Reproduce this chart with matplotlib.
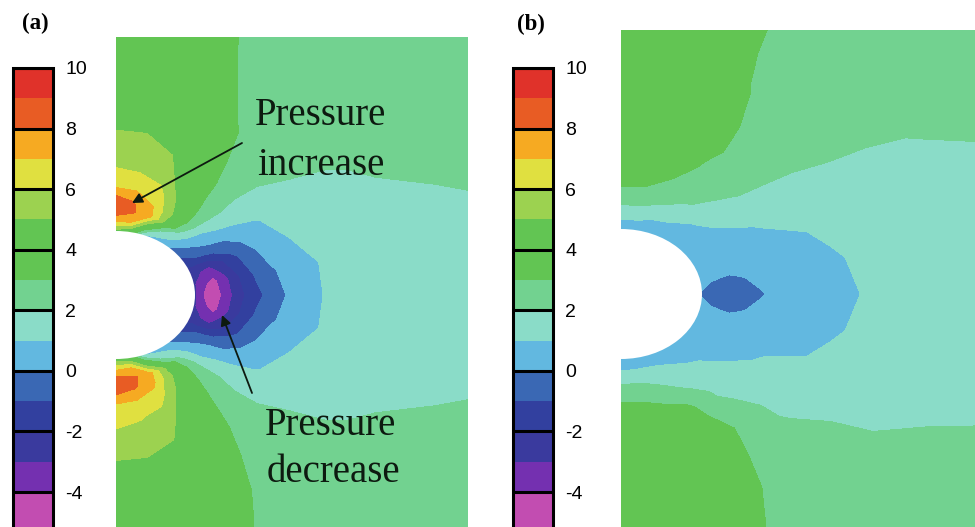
import numpy as np
import matplotlib.pyplot as plt
from matplotlib.colors import ListedColormap, BoundaryNorm
from matplotlib.patches import Ellipse

plt.rcParams["axes.unicode_minus"] = False

# === Field samples ===
# rays around the hole (degrees, 90 = straight up) and distance (px) from the hole edge
ray_angle = [90, 80, 70, 60, 50, 40, 30, 20, 10, 0,
             -10, -20, -30, -40, -50, -60, -70, -80, -90]
edge_dist = [0, 10, 20, 30, 45, 60, 80, 105, 135, 170, 210, 260, 320, 400]

# panel (a): one row per ray, one value per edge distance
press_a = [
    [4.5, 7.2, 8.6, 8.7, 6.8, 6.1, 5.5, 4.9, 4.5, 4.3, 4.2, 4.2, 4.2, 4.2],
    [4.0, 7.0, 8.1, 8.0, 6.7, 6.0, 5.4, 4.9, 4.5, 4.3, 4.2, 4.1, 4.0, 4.0],
    [1.0, 4.5, 7.3, 7.0, 6.4, 5.6, 5.1, 4.6, 4.3, 4.1, 3.3, 3.1, 3.0, 3.0],
    [0.6, 2.0, 4.8, 5.2, 4.8, 4.4, 4.1, 3.8, 3.4, 2.9, 2.7, 2.6, 2.6, 2.6],
    [0.2, 1.2, 2.2, 3.0, 3.1, 2.95, 2.9, 2.7, 2.6, 2.55, 2.5, 2.5, 2.5, 2.5],
    [-0.6, 0.0, 0.5, 0.9, 1.5, 1.8, 1.8, 2.0, 2.3, 2.45, 2.5, 2.5, 2.55, 2.55],
    [-1.5, -1.0, -0.6, -0.3, 0.0, 0.4, 0.9, 1.3, 1.6, 1.85, 2.2, 2.4, 2.5, 2.5],
    [-2.5, -2.9, -3.0, -2.4, -1.3, -0.5, 0.5, 1.0, 1.3, 1.55, 1.75, 2.0, 2.3, 2.5],
    [-2.9, -3.8, -4.3, -3.5, -2.1, -1.0, -0.1, 0.6, 1.15, 1.35, 1.5, 1.6, 1.7, 1.8],
    [-2.9, -4.2, -4.6, -3.7, -2.3, -1.4, -0.4, 0.5, 1.15, 1.35, 1.45, 1.5, 1.55, 1.6],
    [-2.9, -3.8, -4.3, -3.5, -2.1, -1.0, -0.1, 0.6, 1.15, 1.35, 1.5, 1.6, 1.7, 1.8],
    [-2.5, -2.9, -3.0, -2.4, -1.3, -0.5, 0.5, 1.0, 1.3, 1.55, 1.75, 2.0, 2.3, 2.5],
    [-1.5, -1.0, -0.6, -0.3, 0.0, 0.4, 0.9, 1.3, 1.6, 1.85, 2.2, 2.4, 2.5, 2.5],
    [-0.6, 0.0, 0.5, 0.9, 1.5, 1.8, 1.8, 2.0, 2.3, 2.45, 2.5, 2.5, 2.55, 2.55],
    [0.2, 1.2, 2.2, 3.0, 3.1, 3.0, 2.9, 2.8, 2.65, 2.55, 2.5, 2.5, 2.5, 2.5],
    [0.6, 2.0, 4.8, 5.2, 4.8, 4.4, 4.1, 3.9, 3.5, 3.2, 2.9, 2.7, 2.6, 2.6],
    [1.0, 4.5, 7.4, 7.2, 6.5, 5.7, 5.2, 4.7, 4.4, 4.2, 3.6, 3.2, 3.1, 3.1],
    [4.0, 7.0, 8.2, 8.1, 6.8, 6.1, 5.5, 4.9, 4.5, 4.3, 4.2, 4.1, 4.0, 4.0],
    [4.5, 6.8, 8.3, 8.6, 7.0, 6.4, 5.6, 4.9, 4.5, 4.3, 4.2, 4.2, 4.2, 4.2],
]

# panel (b)
press_b = [
    [0.6, 1.0, 1.7, 2.4, 3.1, 3.5, 3.8, 4.0, 4.1, 4.1, 4.1, 4.1, 4.1, 4.1],
    [0.6, 1.0, 1.7, 2.3, 3.05, 3.5, 3.8, 4.0, 4.1, 4.1, 4.1, 4.1, 4.1, 4.1],
    [0.5, 0.8, 1.3, 2.0, 2.7, 3.1, 3.6, 3.9, 4.0, 4.0, 3.9, 3.8, 3.8, 3.8],
    [0.4, 0.7, 1.1, 1.5, 2.3, 2.6, 2.9, 3.2, 3.2, 3.05, 2.8, 2.7, 2.7, 2.7],
    [0.35, 0.6, 0.75, 1.1, 1.7, 2.1, 2.5, 2.6, 2.6, 2.6, 2.6, 2.6, 2.6, 2.6],
    [0.3, 0.4, 0.55, 0.8, 1.15, 1.4, 1.8, 2.0, 2.15, 2.4, 2.5, 2.6, 2.6, 2.6],
    [0.2, 0.3, 0.35, 0.4, 0.55, 0.9, 1.1, 1.4, 1.55, 1.7, 1.85, 2.05, 2.3, 2.4],
    [0.1, 0.2, 0.25, 0.3, 0.45, 0.6, 0.75, 0.9, 1.15, 1.4, 1.55, 1.7, 1.85, 1.95],
    [0.05, 0.02, -0.03, -0.06, 0.05, 0.2, 0.4, 0.55, 0.9, 1.2, 1.4, 1.55, 1.7, 1.8],
    [-0.02, -0.25, -0.35, -0.4, -0.3, -0.05, 0.3, 0.55, 0.8, 1.1, 1.35, 1.5, 1.65, 1.75],
    [0.05, 0.02, -0.03, -0.06, 0.05, 0.2, 0.4, 0.6, 0.9, 1.2, 1.4, 1.55, 1.7, 1.8],
    [0.1, 0.2, 0.25, 0.3, 0.45, 0.6, 0.75, 0.9, 1.15, 1.4, 1.55, 1.75, 2.0, 2.1],
    [0.2, 0.3, 0.35, 0.45, 0.6, 0.85, 1.2, 1.45, 1.7, 1.85, 2.0, 2.35, 2.45, 2.5],
    [0.3, 0.4, 0.55, 0.8, 1.1, 1.45, 1.65, 1.9, 2.05, 2.35, 2.5, 2.55, 2.55, 2.55],
    [0.35, 0.6, 0.8, 1.2, 1.6, 1.85, 2.2, 2.85, 2.7, 2.6, 2.55, 2.55, 2.55, 2.55],
    [0.45, 0.75, 1.15, 1.5, 2.05, 2.9, 3.3, 3.5, 3.5, 3.3, 3.0, 2.8, 2.7, 2.7],
    [0.5, 0.9, 1.4, 1.9, 2.7, 3.3, 3.7, 3.9, 4.0, 4.0, 3.9, 3.8, 3.8, 3.8],
    [0.6, 0.9, 1.6, 2.3, 3.0, 3.5, 3.8, 4.0, 4.1, 4.1, 4.1, 4.1, 4.1, 4.1],
    [0.6, 0.85, 1.6, 2.3, 3.1, 3.5, 3.8, 4.0, 4.1, 4.1, 4.1, 4.1, 4.1, 4.1],
]

levels = list(range(-6, 11))
cb_ticks = [-4, -2, 0, 2, 4, 6, 8, 10]
cb_lines = [-6, -4, -2, 0, 2, 4, 6, 8, 10]
band_colors = ["#c24db1", "#c24db1", "#7430b0", "#3a3a9e", "#32409f", "#3a68b4",
               "#62b8e0", "#8adcc8", "#72d290", "#62c553", "#62c553", "#9cd250",
               "#e0e040", "#f6aa22", "#e85c24", "#e0322a"]

cmap = ListedColormap(band_colors)
norm = BoundaryNorm(levels, cmap.N)

# === Figure layout (pixel boxes on a 975x527 canvas) ===
W, H = 975, 527
fig = plt.figure(figsize=(W / 100, H / 100), dpi=100)


def box(x0, y0, x1, y1):
    return [x0 / W, 1 - y1 / H, (x1 - x0) / W, (y1 - y0) / H]


def draw_panel(rect, vals, hole_a, hole_b, xlim, ylim):
    ax = fig.add_axes(rect)
    th = np.deg2rad(np.array(ray_angle))[:, None]
    d = np.array(edge_dist)[None, :]
    X = (hole_a + d) * np.cos(th)
    Y = (hole_b + d) * np.sin(th)
    cs = ax.contourf(X, Y, np.array(vals), levels=levels, cmap=cmap, norm=norm,
                     antialiased=False)
    ax.add_patch(Ellipse((0, 0), 2 * hole_a, 2 * hole_b, facecolor="white",
                         edgecolor="none", zorder=3))
    ax.set_xlim(*xlim)
    ax.set_ylim(*ylim)
    ax.set_axis_off()
    return ax, cs


def draw_cbar(rect, cs):
    cax = fig.add_axes(rect)
    cb = fig.colorbar(cs, cax=cax, ticks=cb_ticks)
    cb.outline.set_linewidth(2.2)
    for t in cb_lines:
        cax.axhline(t, color="black", lw=2.2)
    cax.minorticks_off()
    cax.tick_params(which="both", length=0, pad=9, labelsize=14)
    for lab in cax.get_yticklabels():
        lab.set_family("Liberation Sans")
    return cb


ax_a, cs_a = draw_panel(box(116, 37, 468, 527), press_a, 79, 64, (0, 352), (-232, 258))
ax_b, cs_b = draw_panel(box(621, 30, 975, 527), press_b, 81, 65, (0, 354), (-233, 264))

draw_cbar(box(13, 68, 53, 552.6), cs_a)
draw_cbar(box(513, 68, 553, 552.6), cs_b)

fig.text(22 / W, 1 - 23 / H, "(a)", ha="left", va="center", fontsize=16.5,
         fontweight="bold", family="Liberation Serif")
fig.text(517 / W, 1 - 24 / H, "(b)", ha="left", va="center", fontsize=16.5,
         fontweight="bold", family="Liberation Serif")

# === Annotations on panel (a) ===
ink = "#0d1a10"
txt = dict(fontsize=28, family="Liberation Serif", color=ink, ha="left",
           va="baseline", zorder=5)
ax_a.text(139, 170, "Pressure", **txt)
ax_a.text(141, 120, "increase", **txt)
ax_a.text(149, -140, "Pressure", **txt)
ax_a.text(151, -187, "decrease", **txt)

arrow = dict(arrowstyle="-|>", color=ink, lw=1.3, mutation_scale=15,
             shrinkA=0, shrinkB=0)
ax_a.annotate("", xy=(16, 92), xytext=(126, 152), arrowprops=arrow, zorder=5)
ax_a.annotate("", xy=(106, -20), xytext=(136, -98), arrowprops=arrow, zorder=5)

fig.savefig("out.png", dpi=100)
